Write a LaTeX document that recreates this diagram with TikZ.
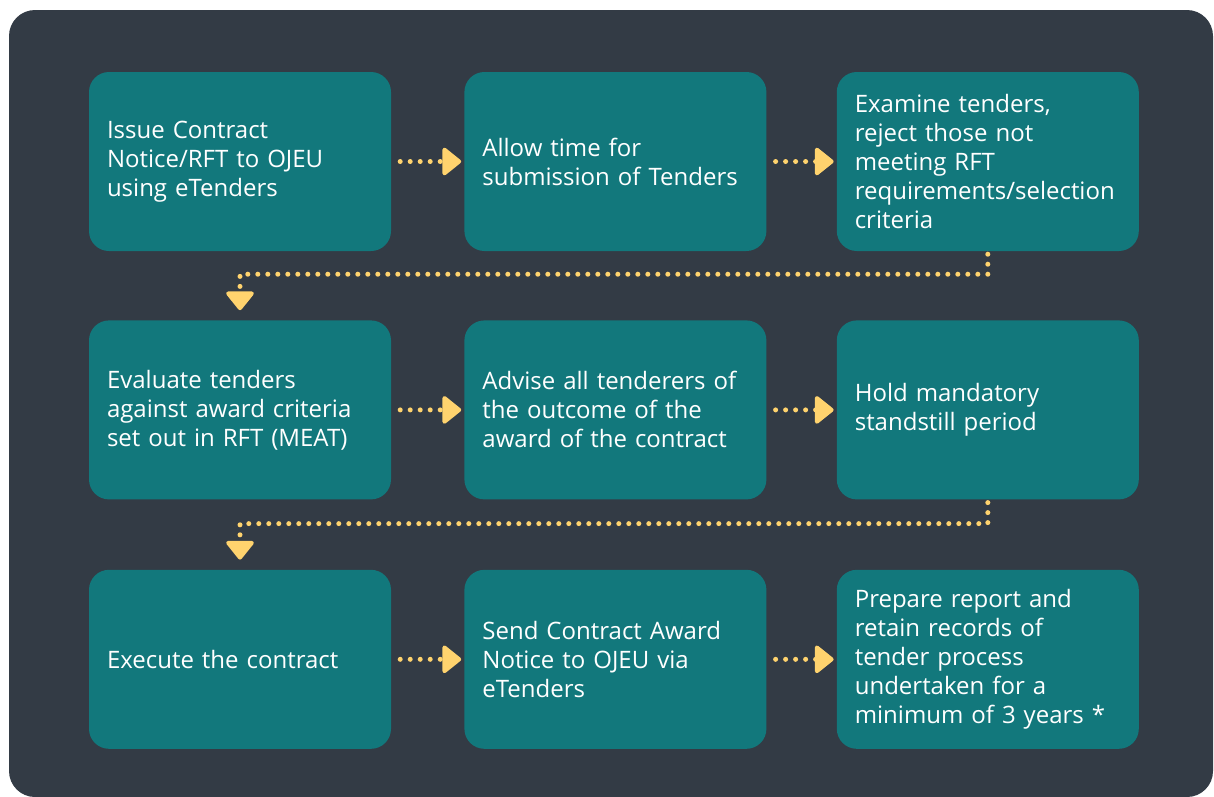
\documentclass[tikz,border=0pt]{standalone}
\usepackage{fontspec}
\setmainfont{Open Sans}
\usetikzlibrary{arrows.meta,positioning}
\definecolor{panel}{HTML}{333B45}
\definecolor{stepteal}{HTML}{12787C}
\definecolor{flowgold}{HTML}{FFD36E}

\begin{document}
\begin{tikzpicture}[x=1pt, y=-1pt,
  stepbox/.style={fill=stepteal, rounded corners=20pt, minimum width=302pt,
    minimum height=179pt, text width=266pt, inner xsep=18pt, align=left,
    text=white, font=\fontsize{24}{29}\selectfont},
  flow/.style={flowgold, line width=5pt, line cap=round, dash pattern=on 0pt off 10pt,
    -{Triangle[width=31pt,length=20pt,round,line width=4pt]}}]
  \useasboundingbox[fill=white] (0,0) rectangle (1214,796);
  \fill[panel, rounded corners=26pt] (9,10) rectangle (1213,797);

  % row 1
  \node[stepbox] (S1) at (240,161.5) {Issue Contract\\Notice/RFT to OJEU\\using eTenders};
  \node[stepbox, right=73pt of S1] (S2) {Allow time for\\submission of Tenders};
  \node[stepbox, right=70pt of S2] (S3) {Examine tenders,\\reject those not\\meeting RFT\\requirements/selection\\criteria};
  % row 2
  \node[stepbox, below=69pt of S1] (S4) {Evaluate tenders\\against award criteria\\set out in RFT (MEAT)};
  \node[stepbox, right=73pt of S4] (S5) {Advise all tenderers of\\the outcome of the\\award of the contract};
  \node[stepbox, right=70pt of S5] (S6) {Hold mandatory\\standstill period};
  % row 3
  \node[stepbox, below=70pt of S4] (S7) {Execute the contract};
  \node[stepbox, right=73pt of S7] (S8) {Send Contract Award\\Notice to OJEU via\\eTenders};
  \node[stepbox, right=70pt of S8] (S9) {Prepare report and\\retain records of\\tender process\\undertaken for a\\minimum of 3 years *};

  \draw[flow, shorten <=9pt, shorten >=3pt] (S1) -- (S2);
  \draw[flow, shorten <=9pt, shorten >=3pt] (S2) -- (S3);
  \draw[flow, shorten <=9pt, shorten >=3pt] (S4) -- (S5);
  \draw[flow, shorten <=9pt, shorten >=3pt] (S5) -- (S6);
  \draw[flow, shorten <=9pt, shorten >=3pt] (S7) -- (S8);
  \draw[flow, shorten <=9pt, shorten >=3pt] (S8) -- (S9);

  \draw[flow, shorten <=3pt, shorten >=10pt] (S3.south) -- ++(0,23) -| (S4.north);
  \draw[flow, shorten <=3pt, shorten >=10pt] (S6.south) -- ++(0,24) -| (S7.north);
\end{tikzpicture}
\end{document}
